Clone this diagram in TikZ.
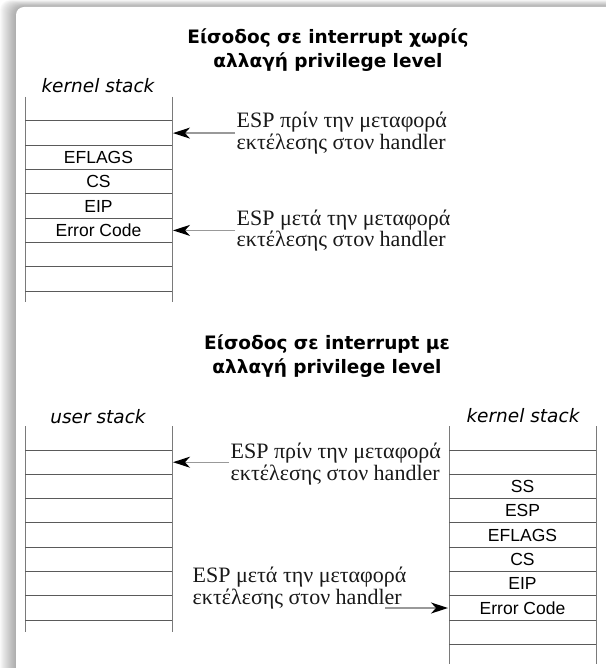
\documentclass[tikz,border=0pt]{standalone}
\usepackage{fontspec}
\setmainfont{Liberation Serif}
\newfontfamily\stackfont{Liberation Sans}
\newfontfamily\titlefont{DejaVu Sans}
\usetikzlibrary{arrows.meta}
\definecolor{gridline}{HTML}{5A5A5A}
\definecolor{vline}{HTML}{7A7A7A}
\definecolor{shaft}{HTML}{999999}
\begin{document}
\begin{tikzpicture}[x=1pt,y=-1pt,
  titletext/.style={font=\titlefont\bfseries\fontsize{18.5}{24}\selectfont, align=center, inner sep=0},
  stacklabel/.style={font=\titlefont\itshape\fontsize{18.5}{20}\selectfont, inner sep=0},
  cell/.style={font=\stackfont\fontsize{17.5}{20}\selectfont, inner sep=0},
  esptext/.style={font=\fontsize{22}{19.5}\selectfont, align=left, inner sep=1.5pt, anchor=west, text=black!90},
  hline/.style={draw=gridline, line width=1pt},
  vertline/.style={draw=vline, line width=1pt},
  ptr/.style={draw=shaft, line width=1.3pt, -{Stealth[length=17pt,width=11pt,inset=5pt,black]}}
]
\useasboundingbox (0,0) rectangle (605,668);
% shadow and panel
\foreach \i in {0,...,15}
  \fill[black,opacity=0.024,rounded corners=10] (\i,{\i*0.45}) rectangle (650,720);
\fill[white,rounded corners=8] (16,7) rectangle (650,720);

% titles
\node[titletext] (h1) at (328,50) {Είσοδος σε interrupt χωρίς\\αλλαγή privilege level};
\node[titletext] (h2) at (327,356) {Είσοδος σε interrupt με\\αλλαγή privilege level};

% ---------- top: kernel stack ----------
\node[stacklabel] (lk1) at (98,86) {kernel stack};
\draw[vertline] (25,97) -- (25,302);
\draw[vertline] (172,97) -- (172,302);
\foreach \k in {0,...,7}
  \draw[hline] (25,{121+\k*24.3}) -- (172,{121+\k*24.3});
\node[cell] (a-eflags) at (98.5,157.4) {EFLAGS};
\node[cell] (a-cs) at (98.5,181.7) {CS};
\node[cell] (a-eip) at (98.5,206.0) {EIP};
\node[cell] (a-err) at (98.5,230.4) {Error Code};
\coordinate (a-r2) at (173,133.1);
\coordinate (a-r6) at (173,230.4);

\node[esptext] (t1) at (235,133.1) {ESP πρίν την μεταφορά\\εκτέλεσης στον handler};
\node[esptext] (t2) at (235,230.4) {ESP μετά την μεταφορά\\εκτέλεσης στον handler};
\draw[ptr] (t1.west) -- (a-r2);
\draw[ptr] (t2.west) -- (a-r6);

% ---------- bottom: user stack ----------
\node[stacklabel] (lu) at (98,417) {user stack};
\draw[vertline] (25,426) -- (25,632);
\draw[vertline] (172,426) -- (172,632);
\foreach \k in {0,...,7}
  \draw[hline] (25,{450+\k*24.3}) -- (172,{450+\k*24.3});
\coordinate (u-r2) at (173,462.2);

% ---------- bottom: kernel stack ----------
\node[stacklabel] (lk2) at (523,416) {kernel stack};
\draw[vertline] (449,426) -- (449,664);
\draw[vertline] (596,426) -- (596,664);
\foreach \k in {0,...,7}
  \draw[hline] (449,{450+\k*24.3}) -- (596,{450+\k*24.3});
\draw[hline] (449,644) -- (596,644);
\node[cell] (b-ss) at (522.5,486.5) {SS};
\node[cell] (b-esp) at (522.5,510.8) {ESP};
\node[cell] (b-eflags) at (522.5,535.1) {EFLAGS};
\node[cell] (b-cs) at (522.5,559.4) {CS};
\node[cell] (b-eip) at (522.5,583.7) {EIP};
\node[cell] (b-err) at (522.5,608.0) {Error Code};
\coordinate (b-r7) at (448,608.0);

\node[esptext] (t3) at (229,464) {ESP πρίν την μεταφορά\\εκτέλεσης στον handler};
\node[esptext] (t4) at (191,588) {ESP μετά την μεταφορά\\εκτέλεσης στον handler};
\draw[ptr] (t3.west |- u-r2) -- (u-r2);
\coordinate (a4) at (385,608.0);
\draw[ptr] (a4) -- (b-r7);
\end{tikzpicture}
\end{document}
